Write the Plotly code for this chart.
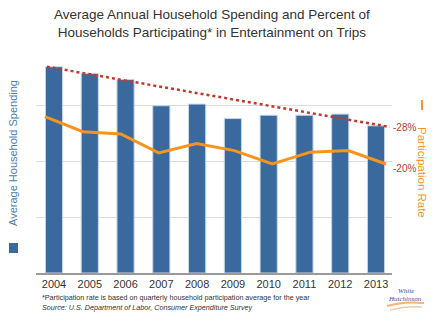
import plotly.graph_objects as go

years = ["2004", "2005", "2006", "2007", "2008", "2009", "2010", "2011", "2012", "2013"]
spending = [370, 358, 347, 300, 303, 277, 283, 283, 285, 264]
participation = [30.0, 28.1, 27.8, 25.4, 26.6, 25.7, 24.0, 25.5, 25.7, 24.0]
trend_x = [0.05, 9.1]
trend_values = [370, 262]
change_labels = ["-28%", "-20%"]

W, H = 440, 321
L, R, T, B = 36, 392, 50, 273

def px(x):
    return (x - L) / (R - L)

def py(y):
    return (B - y) / (B - T)

bar_x = list(range(len(years)))
line_x = list(range(len(years)))

fig = go.Figure()
fig.add_trace(go.Bar(
    x=bar_x, y=spending, width=0.48,
    marker=dict(color="#3a6a9d", line=dict(color="#c9d7e6", width=1)),
    xaxis="x", yaxis="y", showlegend=False,
))
fig.add_trace(go.Scatter(
    x=line_x, y=participation, mode="lines",
    line=dict(color="#f7941d", width=3),
    xaxis="x2", yaxis="y2", showlegend=False,
))
fig.add_trace(go.Scatter(
    x=trend_x, y=trend_values, mode="lines",
    line=dict(color="#c0392b", width=2.5, dash="dot"),
    xaxis="x2", yaxis="y", showlegend=False,
))

fig.update_layout(
    width=W, height=H,
    margin=dict(l=L, r=W - R, t=T, b=H - B, pad=0),
    paper_bgcolor="white", plot_bgcolor="white",
    font=dict(family="Liberation Sans, Arial, sans-serif", color="#333333"),
    bargap=0.5,
    xaxis=dict(
        range=[-0.503, 9.447], tickmode="array", tickvals=bar_x, ticktext=years,
        showgrid=False, zeroline=False, showline=True, linecolor="#9a9a9a",
        linewidth=2, ticks="", tickfont=dict(size=11, color="#333333"),
        fixedrange=True,
    ),
    xaxis2=dict(
        range=[-0.2375, 9.158], overlaying="x", visible=False,
    ),
    yaxis=dict(
        range=[0, 400], dtick=100, showgrid=True, gridcolor="#dcdcdc",
        gridwidth=1, zeroline=False, showticklabels=False, ticks="",
    ),
    yaxis2=dict(
        range=[10.17, 38.46], overlaying="y", side="right", visible=False,
    ),
)

ann = []
ann.append(dict(
    text="Average Annual Household Spending and Percent of<br>Households Participating* in Entertainment on Trips",
    x=px(212), y=py(23), xref="paper", yref="paper", showarrow=False,
    font=dict(size=13.5, color="#333333"), xanchor="center", yanchor="middle",
))
ann.append(dict(
    text="Average Household Spending", textangle=-90,
    x=px(13), y=py(153), xref="paper", yref="paper", showarrow=False,
    font=dict(size=11, color="#4a7db3"), xanchor="center", yanchor="middle",
))
ann.append(dict(
    text="Participation Rate", textangle=90,
    x=px(422), y=py(172), xref="paper", yref="paper", showarrow=False,
    font=dict(size=11.5, color="#f7941d"), xanchor="center", yanchor="middle",
))
ann.append(dict(
    text=change_labels[0], x=px(391), y=py(127), xref="paper", yref="paper",
    showarrow=False, font=dict(size=10, color="#c0392b"), xanchor="left", yanchor="middle",
))
ann.append(dict(
    text=change_labels[1], x=px(391), y=py(168), xref="paper", yref="paper",
    showarrow=False, font=dict(size=10, color="#c0392b"), xanchor="left", yanchor="middle",
))
ann.append(dict(
    text="*Participation rate is based on quarterly household participation average for the year",
    x=px(40), y=py(297), xref="paper", yref="paper", showarrow=False,
    font=dict(size=7.2, color="#333333"), xanchor="left", yanchor="middle",
))
ann.append(dict(
    text="<i>Source: U.S. Department of Labor, Consumer Expenditure Survey</i>",
    x=px(40), y=py(307.5), xref="paper", yref="paper", showarrow=False,
    font=dict(size=7.2, color="#333333"), xanchor="left", yanchor="middle",
))
ann.append(dict(
    text="<i>White</i>", x=px(406), y=py(291), xref="paper", yref="paper",
    showarrow=False, font=dict(size=7, color="#3e4fa8", family="Liberation Serif, serif"),
    xanchor="center", yanchor="middle",
))
ann.append(dict(
    text="<i>Hutchinson</i>", x=px(405), y=py(298.5), xref="paper", yref="paper",
    showarrow=False, font=dict(size=7, color="#3e4fa8", family="Liberation Serif, serif"),
    xanchor="center", yanchor="middle",
))
fig.update_layout(annotations=ann)

shapes = []
shapes.append(dict(type="rect", xref="paper", yref="paper",
                   x0=px(9), x1=px(18), y0=py(253), y1=py(243),
                   fillcolor="#3a6a9d", line=dict(width=0)))
shapes.append(dict(type="line", xref="paper", yref="paper",
                   x0=px(422), x1=px(422), y0=py(100), y1=py(110),
                   line=dict(color="#f7941d", width=2)))
shapes.append(dict(type="path", xref="paper", yref="paper",
                   path=f"M {px(387)},{py(306)} Q {px(404)},{py(301)} {px(424)},{py(303)}",
                   line=dict(color="#f5b27a", width=2)))
shapes.append(dict(type="path", xref="paper", yref="paper",
                   path=f"M {px(390)},{py(310)} Q {px(406)},{py(306)} {px(422)},{py(307)}",
                   line=dict(color="#f5c9a0", width=1.5)))
fig.update_layout(shapes=shapes)

fig.write_html("out.html")
